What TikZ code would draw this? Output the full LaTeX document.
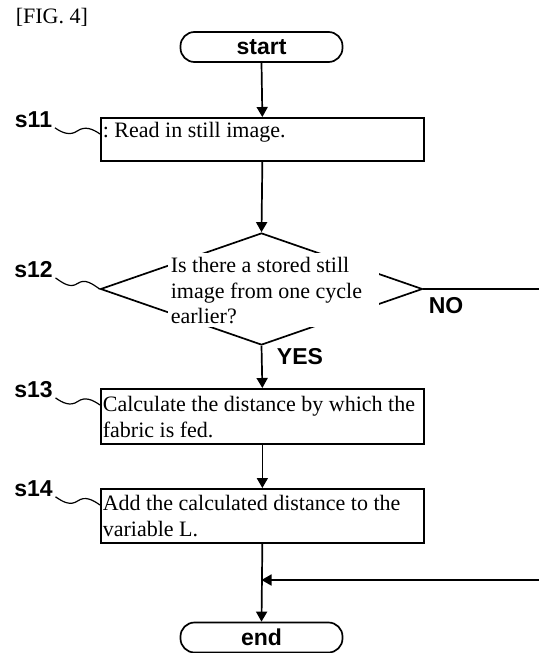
\documentclass[tikz,border=0pt]{standalone}
\usepackage{fontspec}
\setmainfont{Liberation Serif}
\setsansfont{Liberation Sans}
\usetikzlibrary{shapes,arrows.meta,positioning,calc}
\frenchspacing

\begin{document}
\begin{tikzpicture}[x=0.5pt,y=0.5pt,line width=0.85pt,
    font=\fontsize{11pt}{12.7pt}\selectfont,
    terminal/.style={draw,rectangle,rounded corners=7pt,minimum width=81pt,minimum height=15pt,
      inner sep=0pt,font=\fontsize{11.5pt}{13pt}\sffamily\bfseries},
    process/.style={draw,rectangle,anchor=north west,text width=159.5pt,align=flush left,
      inner xsep=1pt,inner ysep=0pt},
    decision/.style={draw,diamond,minimum width=161pt,minimum height=56pt,inner sep=0pt},
    steplabel/.style={font=\fontsize{11.5pt}{13pt}\sffamily\bfseries,inner sep=1pt},
    flow/.style={-{Triangle[length=5pt,width=5.5pt]}},
    wave/.style={to path={.. controls +(-35:9) and +(-145:9) .. ($(\tikztostart)!.5!(\tikztotarget)$)
      .. controls +(35:9) and +(145:9) .. (\tikztotarget)}}]
  \path[fill=white,use as bounding box] (0,0) rectangle (539,-653);

  \node[anchor=base west,inner sep=0pt] (fig) at (15,-24) {[FIG. 4]};

  \node[terminal] (start) at (261.5,-47) {start};
  \node[process,text height=10pt,text depth=11.5pt] (s11) at (100,-117) {: Read in still image.};
  \node[decision] (s12) at (261.5,-289) {};
  \node[fill=white,anchor=north west,text width=102.5pt,align=flush left,inner xsep=1.5pt,inner ysep=0pt,
    text height=10pt,text depth=27pt] (s12txt) at (167,-252)
    {Is there a stored still\\image from one cycle\\earlier?};
  \node[process,text height=11.5pt,text depth=16pt] (s13) at (100,-388)
    {Calculate the distance by which the\\fabric is fed.};
  \node[process,text height=11pt,text depth=16pt] (s14) at (100,-488)
    {Add the calculated distance to the\\variable L.};
  \node[terminal] (end) at (261.5,-637.5) {end};

  \node[steplabel] (l11) at (33.5,-120) {s11};
  \node[steplabel] (l12) at (33.5,-270) {s12};
  \node[steplabel] (l13) at (33.5,-390) {s13};
  \node[steplabel] (l14) at (33.5,-489) {s14};
  \node[steplabel] (yes) at (300,-357) {YES};
  \node[steplabel] (no) at (446,-306) {NO};

  \coordinate (s11in) at ([yshift=-8.5pt]s11.north west);
  \coordinate (s13in) at ([yshift=-8.5pt]s13.north west);
  \coordinate (s14in) at ([yshift=-8.5pt]s14.north west);
  \coordinate (join) at (261.5,-580);

  \draw[flow] (start.south) -- (s11.north);
  \draw[flow] (s11.south) -- (s12.north);
  \draw[flow] (s12.south) -- (s13.north);
  \draw[flow] (s13.south) -- (s14.north);
  \draw[flow] (s14.south) -- (end.north);
  \draw[flow] (s12.east) -- ++(130,0) |- (join);

  \draw[line width=0.6pt] (l11.base east) to[wave] (s11in);
  \draw[line width=0.6pt] (l12.base east) to[wave] (s12.west);
  \draw[line width=0.6pt] (l13.base east) to[wave] (s13in);
  \draw[line width=0.6pt] (l14.base east) to[wave] (s14in);
\end{tikzpicture}
\end{document}
